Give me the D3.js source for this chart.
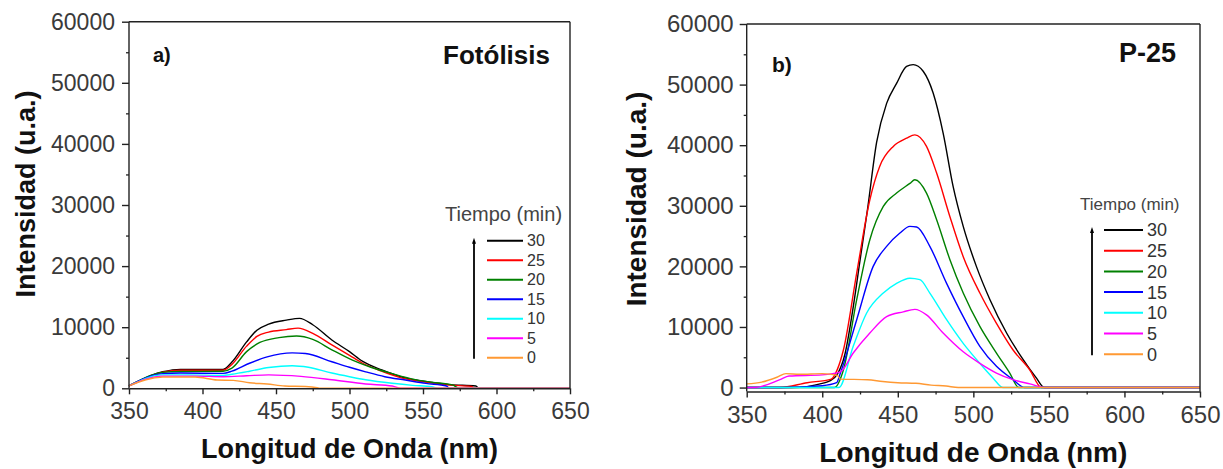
<!DOCTYPE html>
<html><head><meta charset="utf-8">
<script src="https://cdn.jsdelivr.net/npm/d3@7"></script>
<style>
html,body{margin:0;padding:0;background:#fff;}
svg{display:block;font-family:"Liberation Sans",Arial,sans-serif;}
</style></head>
<body><svg id="chart" width="1223" height="469"></svg>
<script>
// ---------- DATA ----------
const times = ["30","25","20","15","10","5","0"];
const colors = ["#000000","#ff0000","#008000","#0000ff","#00ffff","#ff00ff","#ff9933"];
const xTicks = [350,400,450,500,550,600,650];
const yTicks = [0,10000,20000,30000,40000,50000,60000];

// Panel a) Fotólisis : [wavelength nm, intensity]
const fot30 = [[350,400],[373,2700],[385,3100],[414,3100],[420,4300],[430,7600],[437,9500],[445,10500],[457,11150],[466,11450],[475,10400],[488,7900],[500,6000],[509,4400],[522,3000],[534,1950],[545,1350],[556,950],[568,600],[586,380],[588,0],[650,0]];
const fot25 = [[350,400],[373,2650],[385,2950],[414,2950],[420,3900],[430,6900],[437,8500],[445,9200],[457,9600],[465,9850],[475,9000],[488,7100],[500,5400],[509,4100],[522,2800],[534,1800],[545,1250],[556,850],[568,520],[583,300],[585,0],[650,0]];
const fot20 = [[350,400],[373,2600],[385,2750],[414,2800],[420,3300],[430,6000],[439,7500],[452,8300],[464,8550],[475,8000],[488,6300],[502,4600],[515,3400],[529,2400],[543,1500],[556,1000],[570,550],[575,0],[650,0]];
const fot15 = [[350,400],[373,2400],[385,2500],[414,2450],[420,2800],[432,4100],[444,5150],[461,5800],[470,5700],[488,4350],[500,3450],[511,2700],[524,1900],[538,1350],[552,800],[566,380],[568,0],[650,0]];
const fot10 = [[350,400],[373,2200],[390,2200],[414,2100],[420,2300],[432,2800],[445,3400],[461,3700],[472,3450],[488,2500],[500,1900],[511,1400],[529,820],[543,480],[556,250],[560,0],[650,0]];
const fot5  = [[350,400],[373,2000],[395,2000],[414,1900],[430,2050],[445,2200],[467,1950],[488,1400],[511,700],[529,380],[535,0],[650,0]];
const fot0  = [[350,400],[373,1850],[395,1850],[410,1350],[421,1300],[432,900],[444,700],[456,380],[470,300],[478,100],[480,0],[650,0]];

// Panel b) P-25
const p30 = [[350,0],[380,0],[400,700],[405,1100],[410,2200],[415,5500],[420,12500],[425,21000],[430,29500],[436,40500],[442.6,46900],[449.2,50200],[455.8,53000],[460.2,53300],[466.8,52200],[473.4,48600],[480,42000],[486.6,33200],[493.3,26600],[502,20000],[511,14500],[522,9000],[533,4600],[541.8,1550],[547,0],[650,0]];
const p25 = [[350,0],[372,0],[390,800],[406,1400],[410,3000],[414,6200],[422.8,18900],[431.5,31000],[438,36500],[447,39800],[455.8,41150],[461.3,41700],[469,39800],[475.7,35400],[484.5,28200],[493.3,21600],[504.3,15600],[515.3,10600],[526.3,6200],[537.4,2900],[545,0],[650,0]];
const p20 = [[350,0],[408,0],[414,2900],[422.8,14500],[431.5,24400],[440.4,29900],[449.2,32100],[458,33700],[461.3,34300],[469,32100],[475.7,27700],[484.5,21100],[493.3,15600],[504.3,10100],[515.3,5700],[524.1,2400],[530,0],[650,0]];
const p15 = [[350,0],[374,0],[400,300],[409.5,800],[412,2400],[422.8,11200],[433.7,20000],[442.6,23300],[451.4,25500],[458,26600],[462.5,26500],[471.2,23300],[482.3,17200],[493.3,11700],[504.3,6800],[515.3,3500],[526.3,1300],[534,0],[650,0]];
const p10 = [[350,0],[411,0],[420.5,6800],[429.4,12300],[440.4,15600],[449.2,17200],[458,18050],[464.6,17800],[471.2,15600],[482.3,11200],[493.3,7300],[504.3,4000],[513.1,1550],[519.7,0],[650,0]];
const p5  = [[350,0],[355,0],[372,1300],[378,1900],[400,2100],[412,2600],[420.5,5700],[431.5,9000],[442.6,11700],[453.6,12500],[461.3,12900],[469,12000],[480,9000],[493.3,5900],[504.3,4000],[515.3,2400],[526.3,1300],[537.4,600],[548.4,0],[650,0]];
const p0  = [[350,600],[360,900],[370,1700],[376,2300],[385,2200],[400,2300],[410,2000],[412,1400],[430,1300],[440,1000],[450,800],[462,700],[472,400],[482,250],[490,0],[650,0]];

const fotSeries = [fot30,fot25,fot20,fot15,fot10,fot5,fot0];
const p25Series = [p30,p25,p20,p15,p10,p5,p0];

// ---------- DRAW ----------
const svg = d3.select("#chart");

function panel(cfg){
  const g = svg.append("g");
  const x = d3.scaleLinear().domain([350,650]).range([cfg.left,cfg.right]);
  const y = d3.scaleLinear().domain(cfg.yDomain).range([cfg.bottom,cfg.top]);

  // curves
  const line = d3.line().x(d=>x(d[0])).y(d=>y(d[1])).curve(d3.curveMonotoneX);
  cfg.series.forEach((s,i)=>{
    g.append("path").datum(s).attr("d",line)
      .attr("fill","none").attr("stroke",colors[i]).attr("stroke-width",1.4)
      .attr("stroke-linejoin","round");
  });

  // frame top/right
  g.append("line").attr("x1",cfg.left).attr("x2",cfg.right).attr("y1",cfg.top).attr("y2",cfg.top)
    .attr("stroke","#222").attr("stroke-width",1.4);
  g.append("line").attr("x1",cfg.right).attr("x2",cfg.right).attr("y1",cfg.top).attr("y2",cfg.bottom)
    .attr("stroke","#222").attr("stroke-width",1.4);

  // minor ticks
  const yMinor = yTicks.slice(0,-1).map(v=>v+5000);
  const xMinor = xTicks.slice(0,-1).map(v=>v+25);
  g.append("g").attr("transform",`translate(${cfg.left},0)`)
    .call(d3.axisLeft(y).tickValues(yMinor).tickSize(3).tickFormat(""))
    .call(a=>a.select(".domain").remove())
    .selectAll("line").attr("stroke","#222").attr("stroke-width",1.3);
  g.append("g").attr("transform",`translate(0,${cfg.bottom})`)
    .call(d3.axisBottom(x).tickValues(xMinor).tickSize(3).tickFormat(""))
    .call(a=>a.select(".domain").remove())
    .selectAll("line").attr("stroke","#222").attr("stroke-width",1.3);

  // major axes
  const ya = g.append("g").attr("transform",`translate(${cfg.left},0)`)
    .call(d3.axisLeft(y).tickValues(yTicks).tickSize(7).tickSizeOuter(0).tickPadding(cfg.yPad).tickFormat(d3.format("d")));
  ya.select(".domain").attr("d",`M0,${cfg.bottom}V${cfg.top}`);
  const xa = g.append("g").attr("transform",`translate(0,${cfg.bottom})`)
    .call(d3.axisBottom(x).tickValues(xTicks).tickSize(6).tickSizeOuter(0).tickPadding(cfg.xPad));
  [ya,xa].forEach(a=>{
    a.select(".domain").attr("stroke","#222").attr("stroke-width",1.4);
    a.selectAll("line").attr("stroke","#222").attr("stroke-width",1.4);
    a.selectAll("text").attr("fill","#3a3a3a").attr("font-family","'Liberation Sans',Arial,sans-serif");
  });
  ya.selectAll("text").attr("font-size",cfg.yFont);
  xa.selectAll("text").attr("font-size",cfg.xFont);

  // titles
  g.append("text").attr("transform",`translate(${cfg.yTitleX},${cfg.yTitleY}) rotate(-90)`)
    .attr("text-anchor","middle").attr("font-weight","bold").attr("font-size",cfg.titleFont)
    .attr("fill","#111").text("Intensidad (u.a.)");
  g.append("text").attr("x",(cfg.left+cfg.right)/2).attr("y",cfg.xTitleY)
    .attr("text-anchor","middle").attr("font-weight","bold").attr("font-size",cfg.titleFont)
    .attr("fill","#111").text("Longitud de Onda (nm)");

  // panel letter and name
  g.append("text").attr("x",cfg.letterX).attr("y",cfg.letterY).attr("font-weight","bold")
    .attr("font-size",cfg.letterFont).attr("fill","#111").text(cfg.letter);
  g.append("text").attr("x",cfg.nameX).attr("y",cfg.nameY).attr("text-anchor","end").attr("font-weight","bold")
    .attr("font-size",cfg.nameFont).attr("fill","#111").text(cfg.name);

  // legend
  const L = cfg.legend;
  g.append("text").attr("x",L.titleX).attr("y",L.titleY).attr("font-size",L.titleFont)
    .attr("fill","#444").text("Tiempo (min)");
  times.forEach((t,i)=>{
    const yy = L.y0 + i*L.dy;
    g.append("line").attr("x1",L.x1).attr("x2",L.x2).attr("y1",yy).attr("y2",yy)
      .attr("stroke",colors[i]).attr("stroke-width",2);
    g.append("text").attr("x",L.x2+4).attr("y",yy).attr("dy","0.36em")
      .attr("font-size",L.font).attr("fill","#333").text(t);
  });
  const ax = L.arrowX, yTop = L.y0 - 3, yBot = L.y0 + 6*L.dy + 1;
  g.append("line").attr("x1",ax).attr("x2",ax).attr("y1",yBot).attr("y2",yTop+4)
    .attr("stroke","#000").attr("stroke-width",1.8);
  g.append("path").attr("d",`M${ax-2},${yTop+6}L${ax},${yTop}L${ax+2},${yTop+6}Z`).attr("fill","#000");
}

panel({
  series: fotSeries, left:129, right:570, top:21.7, bottom:388.3, yDomain:[0,60000],
  yPad:7, xPad:8, yFont:23, xFont:23, titleFont:27,
  yTitleX:35, yTitleY:194, xTitleY:458,
  letter:"a)", letterX:153, letterY:62, letterFont:20,
  name:"Fotólisis", nameX:550, nameY:64, nameFont:26,
  legend:{titleX:445, titleY:221, titleFont:20, y0:240.7, dy:19.5, x1:487, x2:523, font:16, arrowX:474}
});

panel({
  series: p25Series, left:746.7, right:1200, top:24, bottom:391.5, yDomain:[-650,60000],
  yPad:6, xPad:8, yFont:24, xFont:24, titleFont:28,
  yTitleX:646, yTitleY:199, xTitleY:462,
  letter:"b)", letterX:772, letterY:72, letterFont:21,
  name:"P-25", nameX:1176, nameY:62, nameFont:27,
  legend:{titleX:1080, titleY:210, titleFont:17, y0:230, dy:20.7, x1:1104, x2:1143, font:18, arrowX:1092}
});
</script></body></html>
